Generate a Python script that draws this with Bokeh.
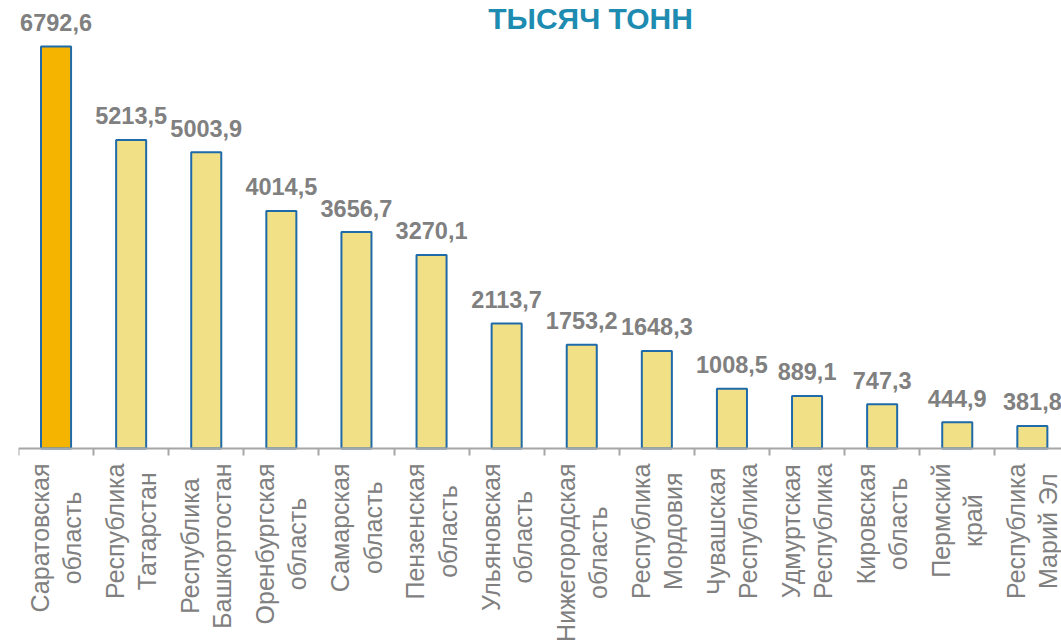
import math
from bokeh.plotting import figure
from bokeh.models import ColumnDataSource, FixedTicker, Range1d, Label
from bokeh.core.properties import value
from bokeh.embed import file_html
from bokeh.resources import INLINE

regions = [
    "Саратовская\nобласть",
    "Республика\nТатарстан",
    "Республика\nБашкортостан",
    "Оренбургская\nобласть",
    "Самарская\nобласть",
    "Пензенская\nобласть",
    "Ульяновская\nобласть",
    "Нижегородская\nобласть",
    "Республика\nМордовия",
    "Чувашская\nРеспублика",
    "Удмуртская\nРеспублика",
    "Кировская\nобласть",
    "Пермский\nкрай",
    "Республика\nМарий Эл",
]
values = [6792.6, 5213.5, 5003.9, 4014.5, 3656.7, 3270.1, 2113.7,
          1753.2, 1648.3, 1008.5, 889.1, 747.3, 444.9, 381.8]
value_labels = ["6792,6", "5213,5", "5003,9", "4014,5", "3656,7", "3270,1", "2113,7",
                "1753,2", "1648,3", "1008,5", "889,1", "747,3", "444,9", "381,8"]
title_text = "ТЫСЯЧ ТОНН"

FONT = "Liberation Sans"
idx = list(range(len(regions)))
zeros = [0] * len(regions)
colors = ["#F5B400"] + ["#F2E086"] * (len(regions) - 1)

src = ColumnDataSource(dict(x=idx, top=values, lab=value_labels, color=colors,
                            name=regions, base=zeros))

W, H = 1061, 643
S = 402 / 6792.6  # px per unit
p = figure(width=W, height=H, output_backend="svg", toolbar_location=None,
           x_range=Range1d(-0.5, -0.5 + 1043 / 75.1),
           y_range=Range1d(-(H - 448) / S, 448 / S),
           min_border_left=18, min_border_right=0, min_border_top=0,
           min_border_bottom=0)
p.outline_line_color = None
p.grid.visible = False
p.yaxis.visible = False
p.background_fill_color = "white"
p.border_fill_color = "white"

p.vbar(x="x", top="top", width=0.4, bottom=0, source=src,
       fill_color="color", line_color="#1F6AA8", line_width=2)

p.text(x="x", y="top", text="lab", source=src, text_align="center",
       text_baseline="alphabetic", y_offset=-24,
       text_font=value(FONT), text_font_style="bold",
       text_font_size="23.5px", text_color="#808080")

ax = p.xaxis[0]
ax.fixed_location = 0
ax.ticker = FixedTicker(ticks=idx, minor_ticks=[i - 0.5 for i in range(len(regions) + 1)])
ax.major_label_overrides = {i: "" for i in idx}
ax.major_tick_out = 0
ax.major_tick_in = 0
ax.minor_tick_out = 7
ax.minor_tick_in = 0
ax.minor_tick_line_color = "#A6A6A6"
ax.minor_tick_line_width = 2
ax.axis_line_color = "#A6A6A6"
ax.axis_line_width = 2

# category labels: rotated, two centred lines, top anchored just below the axis
p.text(x="x", y="base", text="name", source=src, angle=math.pi / 2,
       anchor=value("center_right"), text_align="center", y_offset=15,
       text_font=value(FONT), text_font_size="25px", text_color="#808080",
       text_line_height=1.15)

title = Label(x=572, y=H - 1, x_units="screen", y_units="screen", text=title_text,
              text_align="center", text_baseline="top",
              text_font=FONT, text_font_style="bold", text_font_size="30px",
              text_color="#1E8BB0")
p.add_layout(title)

open("out.html", "w").write(file_html(p, INLINE))
